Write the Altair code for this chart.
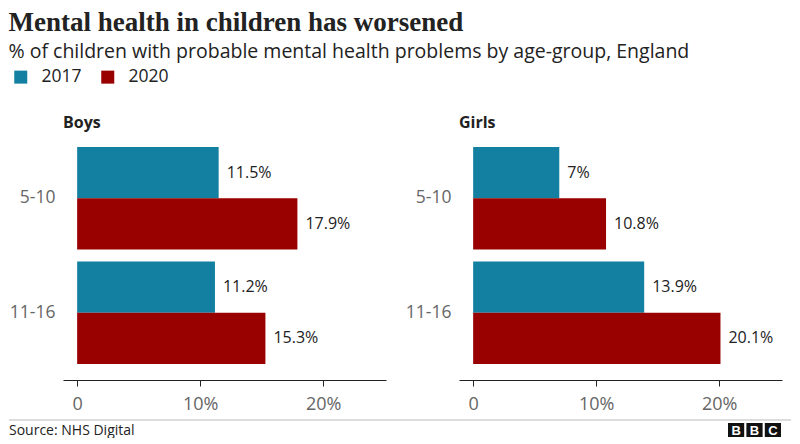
import altair as alt
import pandas as pd

# ---- data ----
sexes = ["Boys", "Boys", "Boys", "Boys", "Girls", "Girls", "Girls", "Girls"]
ages = ["5-10", "5-10", "11-16", "11-16", "5-10", "5-10", "11-16", "11-16"]
years = ["2017", "2020", "2017", "2020", "2017", "2020", "2017", "2020"]
values = [11.5, 17.9, 11.2, 15.3, 7.0, 10.8, 13.9, 20.1]
age_order = ["5-10", "11-16"]
year_order = ["2017", "2020"]
colors = ["#1380A1", "#990000"]
x_ticks = [0, 10, 20]
source_text = ["Source: NHS Digital"]
logo_letters = ["B", "B", "C"]

df = pd.DataFrame({"sex": sexes, "age": ages, "year": years, "value": values})
df["label"] = [f"{v:g}%" for v in values]

SANS = "Open Sans"
TXT = "#222222"
GREY = "#666666"
LEFT = -54  # footer offset back to the chart's left edge

x_enc = alt.X(
    "value:Q",
    scale=alt.Scale(domain=[-1.15, 25.1], nice=False, zero=False),
    axis=alt.Axis(
        values=x_ticks,
        labelExpr="datum.value == 0 ? '0' : datum.value + '%'",
        title=None, grid=False,
        domainColor=TXT, tickColor=TXT, tickSize=6,
        labelFontSize=18, labelColor=GREY, labelFont=SANS, labelPadding=9,
    ),
)
y_enc = alt.Y(
    "age:N", sort=age_order,
    scale=alt.Scale(paddingInner=0.104, paddingOuter=0.14),
    axis=alt.Axis(title=None, domain=False, ticks=False, labelFontSize=17.5,
                  labelColor=GREY, labelFont=SANS, labelPadding=8),
)
yoff = alt.YOffset("year:N", sort=year_order, scale=alt.Scale(paddingInner=0))
color_enc = alt.Color(
    "year:N", sort=year_order,
    scale=alt.Scale(domain=year_order, range=colors),
    legend=alt.Legend(title=None, orient="none", direction="horizontal",
                      legendX=-51, legendY=-63,
                      symbolType="square", symbolSize=169, symbolStrokeWidth=0,
                      labelFontSize=17.5, labelColor=TXT, labelFont=SANS,
                      labelOffset=12, columnPadding=17),
)

base = alt.Chart(df)
bars = base.mark_bar().encode(x=x_enc, x2=alt.datum(0), y=y_enc, yOffset=yoff, color=color_enc)
texts = base.mark_text(align="left", dx=8, fontSize=16, color=TXT, font=SANS).encode(
    x="value:Q", y=alt.Y("age:N", sort=age_order), yOffset=alt.YOffset("year:N", sort=year_order), text="label:N"
)

panels = alt.layer(bars, texts).properties(width=323, height=249).facet(
    column=alt.Column("sex:N", title=None,
                      header=alt.Header(labelAnchor="start", labelFontSize=16, labelFontWeight="bold",
                                        labelColor=TXT, labelFont=SANS, labelPadding=0)),
    spacing=19,
).resolve_axis(y="independent")

# ---- footer ----
src_df = pd.DataFrame({"text": source_text})
logo_df = pd.DataFrame({"k": [0, 1, 2], "letter": logo_letters})
rule = alt.Chart(src_df).mark_rule(color="#bbbbbb", strokeWidth=1).encode(
    x=alt.value(LEFT), x2=alt.value(LEFT + 782), y=alt.value(0))
src = alt.Chart(src_df).mark_text(align="left", baseline="middle", fontSize=14, color=TXT, font=SANS).encode(
    x=alt.value(LEFT), y=alt.value(11), text="text:N")
logo_x = alt.X("k:O", axis=None, scale=alt.Scale(range=[LEFT + 719, LEFT + 772], paddingInner=0.12, paddingOuter=0))
logo_rect = alt.Chart(logo_df).mark_rect(color="#111111").encode(x=logo_x, y=alt.value(3), y2=alt.value(17))
logo_txt = alt.Chart(logo_df).mark_text(color="white", fontWeight="bold", fontSize=13,
                                        font="Liberation Sans", baseline="middle").encode(
    x=logo_x, y=alt.value(10.5), text="letter:N")
footer = alt.layer(rule, src, logo_rect, logo_txt).properties(width=700, height=17)

chart = alt.vconcat(panels, footer, spacing=6).properties(
    title=alt.TitleParams(
        text="Mental health in children has worsened",
        subtitle="% of children with probable mental health problems by age-group, England",
        anchor="start", font="Liberation Serif", fontSize=27, fontWeight="bold", color=TXT,
        subtitleFont=SANS, subtitleFontSize=19.5, subtitleColor=TXT, subtitlePadding=6, offset=6,
    ),
    padding={"left": 0, "top": 0, "right": 0, "bottom": 0},
).configure_view(stroke=None)

chart.save("out.html", embed_options={"renderer": "svg", "actions": False})
